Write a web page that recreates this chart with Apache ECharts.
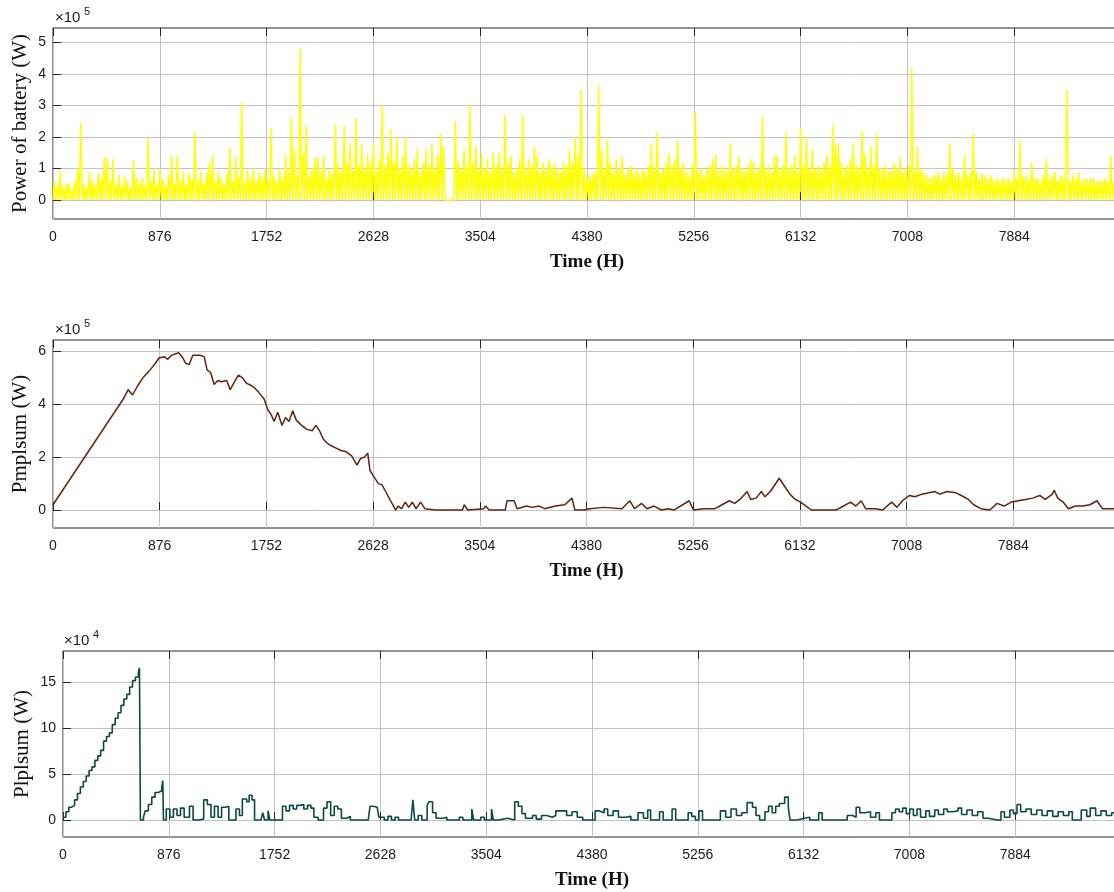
<!DOCTYPE html>
<html><head><meta charset="utf-8">
<script src="https://cdn.jsdelivr.net/npm/echarts@6/dist/echarts.min.js"></script>
<style>html,body{margin:0;padding:0;background:#fff}#c{width:1114px;height:892px}</style>
</head><body><div id="c"></div>
<script>
// ---- x axis (hours of the year) ----
const hourTicks = [0, 876, 1752, 2628, 3504, 4380, 5256, 6132, 7008, 7884, 8760];
const batteryStepH = 12;

// ---- Power of battery, kW, every 12 h (night / day) ----
const batteryKW = [
0,60,0,45,0,90,0,40,0,50,0,55,0,35,0,60,0,100,0,245,
0,50,0,40,0,90,0,60,0,45,0,85,0,70,0,135,0,135,0,60,
0,130,0,50,0,80,0,45,0,75,0,60,0,40,0,125,0,70,0,55,
0,70,0,45,0,195,0,60,0,95,0,50,0,100,0,65,0,45,0,80,
0,140,0,55,0,140,0,60,0,90,0,50,0,85,0,70,0,215,0,60,
0,90,0,55,0,85,0,120,0,140,0,60,0,90,0,70,0,50,0,85,
0,165,0,60,0,135,0,75,0,310,0,55,0,95,0,70,0,100,0,60,
0,90,0,75,0,100,0,65,0,230,0,80,0,60,0,100,0,70,0,145,
0,90,0,260,0,160,0,75,0,480,0,150,0,235,0,80,0,100,0,135,
0,135,0,90,0,140,0,70,0,100,0,85,0,240,0,110,0,90,0,235,
0,120,0,180,0,95,0,260,0,110,0,180,0,100,0,145,0,120,0,180,
0,90,0,130,0,300,0,110,0,150,0,225,0,120,0,200,0,100,0,140,
0,200,0,110,0,100,0,130,0,160,0,90,0,120,0,160,0,110,0,180,
0,100,0,140,0,210,0,170,0,0,0,5,0,0,0,250,0,120,0,100,
0,160,0,110,0,300,0,120,0,170,0,100,0,150,0,100,0,130,0,90,
0,150,0,110,0,150,0,100,0,270,0,120,0,140,0,90,0,100,0,130,
0,270,0,100,0,130,0,110,0,170,0,140,0,90,0,120,0,100,0,130,
0,110,0,115,0,100,0,90,0,120,0,110,0,160,0,120,0,200,0,140,
0,350,0,100,0,70,0,80,0,85,0,90,0,360,0,160,0,100,0,190,
0,120,0,90,0,130,0,100,0,140,0,80,0,100,0,110,0,90,0,100,
0,85,0,100,0,90,0,110,0,180,0,100,0,215,0,90,0,100,0,120,
0,150,0,110,0,130,0,190,0,100,0,120,0,90,0,80,0,110,0,280,
0,90,0,100,0,80,0,100,0,110,0,130,0,145,0,90,0,110,0,100,
0,90,0,180,0,100,0,110,0,140,0,100,0,90,0,110,0,130,0,120,
0,90,0,110,0,265,0,100,0,110,0,90,0,140,0,140,0,100,0,110,
0,215,0,100,0,110,0,140,0,90,0,230,0,110,0,200,0,100,0,160,
0,100,0,110,0,100,0,120,0,145,0,110,0,235,0,180,0,175,0,120,
0,100,0,110,0,130,0,180,0,110,0,100,0,220,0,150,0,100,0,170,
0,110,0,210,0,100,0,100,0,110,0,90,0,100,0,120,0,100,0,135,
0,90,0,100,0,110,0,420,0,90,0,170,0,100,0,90,0,80,0,70,
0,75,0,80,0,90,0,70,0,90,0,80,0,180,0,100,0,80,0,90,
0,70,0,140,0,80,0,90,0,210,0,90,0,70,0,85,0,75,0,70,
0,80,0,65,0,70,0,60,0,70,0,65,0,70,0,60,0,90,0,70,
0,190,0,75,0,80,0,65,0,120,0,70,0,70,0,60,0,80,0,130,
0,70,0,80,0,90,0,65,0,80,0,70,0,350,0,60,0,80,0,70,
0,90,0,60,0,70,0,65,0,70,0,70,0,60,0,60,0,65,0,70,
0,60,0,140,0,60,0,50,0,60,0,50,0
];

// ---- Pmplsum, kW ----
const pmHours = [0,577,618,653,695,738,797,841,870,913,942,972,1031,1060,1089,1118,1148,1206,1241,1265,1294,1323,1353,1382,1426,1455,1484,1522,1557,1587,1631,1660,1689,1733,1763,1792,1815,1845,1880,1909,1938,1968,1997,2041,2085,2129,2158,2188,2217,2246,2276,2320,2364,2408,2452,2496,2525,2555,2584,2602,2628,2672,2701,2731,2760,2789,2813,2833,2862,2892,2921,2950,2980,3018,3053,3141,3258,3361,3376,3405,3537,3552,3581,3713,3727,3786,3810,3889,3933,3991,4036,4124,4202,4261,4284,4363,4407,4524,4671,4736,4774,4833,4877,4935,4994,5053,5097,5223,5258,5346,5434,5493,5552,5596,5640,5699,5728,5772,5816,5845,5889,5918,5962,6006,6050,6094,6138,6182,6226,6343,6431,6548,6592,6636,6671,6753,6812,6885,6929,6973,7032,7076,7134,7237,7281,7340,7413,7457,7515,7559,7618,7691,7750,7809,7867,7926,7985,8044,8102,8146,8205,8220,8249,8293,8337,8395,8454,8513,8571,8615,8712,8760];
const pmKW = [20,420,455,435,470,500,530,555,575,580,570,585,595,580,555,550,585,585,580,530,520,475,490,485,490,455,480,510,500,480,470,460,445,420,380,360,335,370,320,350,335,375,340,320,305,300,320,300,270,255,245,235,225,220,205,170,195,200,215,150,130,100,95,70,45,20,0,15,5,30,10,30,5,30,5,0,0,0,20,0,5,15,0,0,35,35,5,15,10,15,5,15,20,45,0,0,5,10,5,35,5,25,5,15,0,5,0,35,0,5,5,20,35,25,40,70,40,45,70,50,70,90,120,90,60,40,30,15,0,0,0,30,15,35,5,5,0,30,10,35,55,50,60,70,60,70,65,55,40,20,5,0,25,15,30,35,40,45,55,40,60,75,45,30,5,15,15,20,35,5,5,5];

// ---- Plplsum, kW ----
const plHours = [0,24,48,72,96,120,144,168,192,216,240,264,288,312,336,360,384,408,432,456,480,504,528,552,576,600,624,633,641,666,680,707,735,762,790,818,826,832,855,885,914,944,973,1003,1047,1077,1121,1165,1195,1225,1254,1284,1313,1343,1373,1432,1461,1485,1521,1541,1565,1586,1639,1654,1669,1698,1713,1772,1817,1846,1876,1906,1935,1965,1994,2024,2053,2077,2112,2157,2186,2216,2246,2275,2305,2349,2379,2527,2542,2571,2601,2616,2660,2690,2719,2749,2778,2882,2897,2912,2941,2971,3015,3030,3060,3089,3148,3178,3282,3311,3385,3400,3459,3489,3548,3563,3607,3681,3740,3770,3800,3829,3888,3918,3962,4006,4051,4080,4125,4170,4214,4258,4303,4377,4406,4436,4480,4510,4554,4599,4658,4702,4761,4806,4841,4865,4939,4969,5043,5073,5176,5206,5236,5265,5295,5398,5443,5487,5531,5576,5620,5664,5709,5738,5768,5812,5842,5871,5901,5931,5975,6005,6020,6079,6138,6183,6257,6286,6434,6493,6538,6567,6597,6641,6686,6730,6760,6834,6863,6893,6923,6952,6982,7011,7041,7071,7100,7144,7174,7218,7248,7292,7322,7366,7410,7440,7484,7529,7573,7617,7662,7736,7766,7795,7840,7869,7899,7929,7973,8017,8062,8106,8150,8195,8239,8283,8328,8357,8402,8431,8476,8505,8550,8594,8638,8683,8760];
const plKW = [3,9,14,16,22,29,36,42,48,54,58,65,70,76,86,91,95,104,111,117,125,132,137,145,152,156,161,166,0,3,10,17,25,30,32,36,43,0,12,3,12,5,13,3,15,0,1,22,17,3,15,3,14,15,0,12,5,23,20,27,22,0,0,8,0,10,0,0,15,10,16,12,16,17,12,16,13,3,0,13,20,5,15,12,2,4,0,0,15,14,15,3,0,4,0,3,0,0,22,0,5,0,16,20,8,2,3,0,3,0,12,0,3,0,12,0,2,0,20,15,7,2,5,1,5,3,5,10,10,5,9,3,0,0,10,8,12,5,10,3,4,0,8,2,11,0,9,0,12,0,8,4,0,10,0,0,10,3,12,5,8,19,14,5,0,9,15,8,15,18,25,14,0,2,3,0,8,0,0,5,3,14,8,9,3,8,0,0,8,12,9,13,7,12,5,12,3,10,4,11,6,12,9,10,13,6,11,5,9,2,0,0,9,3,11,7,17,9,12,6,11,5,10,4,9,5,9,0,0,11,4,13,5,10,5,8,3];

// ---- y tick labels ----
const y1Ticks = [0, 100000, 200000, 300000, 400000, 500000];
const y2Ticks = [0, 200000, 400000, 600000];
const y3Ticks = [0, 50000, 100000, 150000];

const batteryData = batteryKW.map((v, i) => [i * batteryStepH, v * 1000]);
const pmData = pmHours.map((h, i) => [h, pmKW[i] * 1000]);
const plData = plHours.map((h, i) => [h, plKW[i] * 1000]);

const SANS = 'Liberation Sans, Arial, sans-serif';
const SERIF = 'Liberation Serif, Times New Roman, serif';
const AX = '#262626', GRIDC = '#c2c2c2';

const grids = [
  {left: 53, top: 28, right: -7, height: 191},
  {left: 53, top: 340, right: -6, height: 188},
  {left: 63, top: 651, right: -7, height: 186}
].map(g => Object.assign(g, {show: true, borderColor: AX, borderWidth: 1, backgroundColor: '#fff',
  containLabel: false, outerBoundsMode: 'none'}));

function xAxes(gi) {
  return [{
    type: 'value', gridIndex: gi, min: 0, max: 8760, interval: 876, position: 'bottom',
    axisLine: {show: false},
    axisTick: {show: true, inside: true, length: 8, lineStyle: {color: AX}},
    axisLabel: {showMaxLabel: false, margin: 11, fontFamily: SANS, fontSize: 14, color: '#1a1a1a',
      formatter: v => String(v)},
    splitLine: {show: true, lineStyle: {color: GRIDC, width: 1}}
  }, {
    type: 'value', gridIndex: gi, min: 0, max: 8760, interval: 876, position: 'top',
    axisLine: {show: false},
    axisTick: {show: true, inside: true, length: 8, lineStyle: {color: AX}},
    axisLabel: {show: false}, splitLine: {show: false}
  }];
}
function yAxis(gi, min, max, ticks, scale) {
  return {
    type: 'value', gridIndex: gi, min: min, max: max,
    axisLine: {show: false},
    axisTick: {show: true, inside: true, length: 8, customValues: ticks, lineStyle: {color: AX}},
    axisLabel: {customValues: ticks, formatter: v => String(Math.round(v / scale)), margin: 7,
      fontFamily: SANS, fontSize: 14, color: '#1a1a1a'},
    splitLine: {show: true, lineStyle: {color: GRIDC, width: 1}}
  };
}

const centersY = [123.5, 434, 744];
const bottoms = [219, 528, 837];
const centersX = [587, 586.5, 592];
const yTitles = ['Power of battery (W)', 'Pmplsum (W)', 'Plplsum (W)'];
const yTitleX = [20, 20, 22];
const expoTxt = ['5', '5', '4'];
const expoPos = [[55, 18], [55, 330], [64, 641]];

const graphic = [];
for (let i = 0; i < 3; i++) {
  graphic.push({type: 'text', x: yTitleX[i], y: centersY[i], rotation: Math.PI / 2,
    style: {text: yTitles[i], font: '21px ' + SERIF, fill: '#111', align: 'center', verticalAlign: 'middle'}});
  graphic.push({type: 'text', x: centersX[i], y: bottoms[i] + 43,
    style: {text: 'Time (H)', font: 'bold 19px ' + SERIF, fill: '#111', align: 'center', verticalAlign: 'middle'}});
  graphic.push({type: 'text', x: expoPos[i][0], y: expoPos[i][1],
    style: {text: '\u00d710', font: '15px ' + SANS, fill: '#1a1a1a', align: 'left', verticalAlign: 'middle'}});
  graphic.push({type: 'text', x: expoPos[i][0] + 29, y: expoPos[i][1] - 6,
    style: {text: expoTxt[i], font: '11px ' + SANS, fill: '#1a1a1a', align: 'left', verticalAlign: 'middle'}});
}

const chart = echarts.init(document.getElementById('c'), null, {renderer: 'canvas'});
chart.setOption({
  animation: false,
  backgroundColor: '#fff',
  grid: grids,
  xAxis: [].concat(xAxes(0), xAxes(1), xAxes(2)),
  yAxis: [
    yAxis(0, -60000, 545000, y1Ticks, 1e5),
    yAxis(1, -68000, 643000, y2Ticks, 1e5),
    yAxis(2, -18500, 184300, y3Ticks, 1e4)
  ],
  graphic: graphic,
  series: [
    {type: 'line', xAxisIndex: 0, yAxisIndex: 0, data: batteryData, showSymbol: false, symbol: 'none',
      lineStyle: {color: '#ffff00', width: 1.5}, itemStyle: {color: '#ffff00'}, clip: true},
    {type: 'line', xAxisIndex: 2, yAxisIndex: 1, data: pmData, showSymbol: false, symbol: 'none',
      lineStyle: {color: '#5e2412', width: 1.5}, itemStyle: {color: '#5e2412'}, clip: true},
    {type: 'line', xAxisIndex: 4, yAxisIndex: 2, data: plData, showSymbol: false, symbol: 'none', step: 'end',
      lineStyle: {color: '#0b4a43', width: 1.6}, itemStyle: {color: '#0b4a43'}, clip: true}
  ]
});
</script>
</body></html>
